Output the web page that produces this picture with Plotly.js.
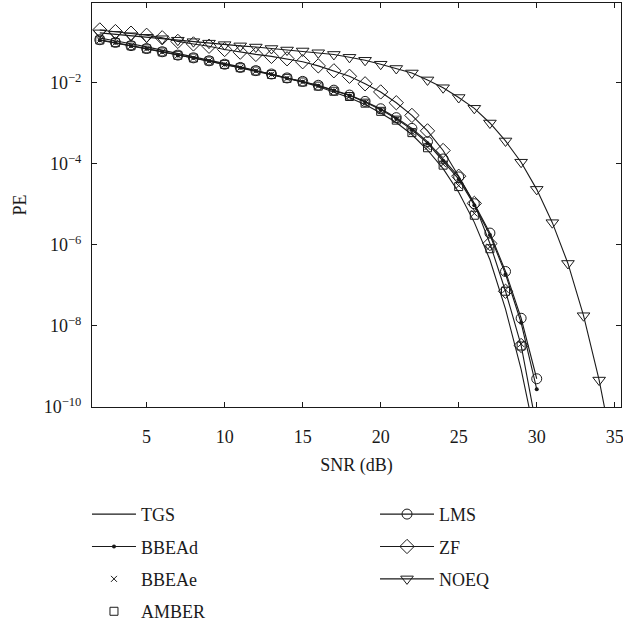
<!DOCTYPE html>
<html>
<head>
<meta charset="utf-8">
<script src="https://cdn.plot.ly/plotly-3.0.1.min.js"></script>
<style>html,body{margin:0;padding:0;background:#fff;}</style>
</head>
<body>
<div id="chart" style="width:623px;height:632px;"></div>
<script>
// SNR (dB) grid
var snr = [2,3,4,5,6,7,8,9,10,11,12,13,14,15,16,17,18,19,20,21,22,23,24,25,26,27,28,29,30];
var snrNoeq = [2,3,4,5,6,7,8,9,10,11,12,13,14,15,16,17,18,19,20,21,22,23,24,25,26,27,28,29,30,31,32,33,34,35];
var snrAmber = [2,3,4,5,6,7,8,9,10,11,12,13,14,15,16,17,18,19,20,21,22,23,24,25,26,27,28,29];

var tgs = [0.128,0.110,0.092,0.077,0.064,0.053,0.044,0.037,0.030,0.0247,0.0202,0.0163,0.0130,0.0104,8.1e-3,6.0e-3,4.3e-3,2.9e-3,1.8e-3,1.05e-3,5.3e-4,2.2e-4,7.6e-5,2.0e-5,3.6e-6,4.3e-7,2.6e-8,8.5e-10,1.2e-11];
var bbead = [0.112,0.097,0.081,0.069,0.0575,0.0475,0.0408,0.0345,0.0284,0.0237,0.0197,0.0162,0.0130,0.0107,8.5e-3,6.45e-3,4.85e-3,3.35e-3,2.18e-3,1.3e-3,7.0e-4,3.25e-4,1.2e-4,4.2e-5,9.5e-6,1.75e-6,1.9e-7,1.2e-8,2.75e-10];
var bbeae = [0.113,0.0975,0.0815,0.069,0.0577,0.0477,0.0409,0.0346,0.0285,0.0236,0.0196,0.0161,0.0129,0.0105,8.35e-3,6.25e-3,4.65e-3,3.2e-3,2.02e-3,1.22e-3,6.0e-4,2.6e-4,9.8e-5,2.9e-5,6.0e-6,9.0e-7,7.8e-8,3.6e-9];
var amber = [0.114,0.098,0.082,0.069,0.0578,0.0478,0.041,0.0346,0.0285,0.0236,0.0196,0.0161,0.0129,0.0105,8.3e-3,6.2e-3,4.6e-3,3.15e-3,1.98e-3,1.2e-3,5.9e-4,2.5e-4,9.3e-5,2.75e-5,5.4e-6,8.05e-7,7.2e-8,3.2e-9];
var lms = [0.1159,0.0998,0.0830,0.0702,0.0585,0.0483,0.0414,0.0350,0.0288,0.0240,0.0200,0.0165,0.0132,0.01086,8.71e-3,6.59e-3,4.99e-3,3.48e-3,2.29e-3,1.38e-3,7.5e-4,3.54e-4,1.32e-4,4.76e-5,1.04e-5,1.96e-6,2.21e-7,1.55e-8,4.98e-10];
var zf = [0.202,0.184,0.168,0.149,0.1295,0.1054,0.0912,0.0798,0.0664,0.0571,0.0503,0.0450,0.0392,0.0331,0.0262,0.0198,0.0145,9.46e-3,5.96e-3,3.23e-3,1.57e-3,6.53e-4,2.14e-4,4.95e-5,1.06e-5,1.08e-6,7.18e-8,3.30e-9,3e-11];
var noeq = [0.171,0.157,0.145,0.133,0.1225,0.1127,0.1037,0.0953,0.0877,0.0817,0.0764,0.0702,0.0646,0.0611,0.0552,0.0502,0.0426,0.0360,0.0288,0.0226,0.0175,0.0118,7.57e-3,4.34e-3,2.35e-3,1.02e-3,3.68e-4,1.10e-4,2.35e-5,3.54e-6,3.49e-7,1.79e-8,4.62e-10,5e-12];

var xTicks = [5,10,15,20,25,30,35];
var yTicks = [1e-10,1e-8,1e-6,1e-4,1e-2];
var yTickText = ['10<sup>\u221210</sup>','10<sup>\u22128</sup>','10<sup>\u22126</sup>','10<sup>\u22124</sup>','10<sup>\u22122</sup>'];

var K = '#1a1a1a';
var FONT = '"Liberation Serif", "DejaVu Serif", serif';

function tr(name, x, y, mode, marker, legend, group) {
  var t = {name: name, x: x, y: y, mode: mode, type: 'scatter', cliponaxis: true,
           line: {color: K, width: 1.1}, legend: legend, legendgroup: group};
  if (marker) t.marker = marker;
  return t;
}

var data = [
  tr('TGS', snr, tgs, 'lines', null, 'legend', 'a'),
  tr('BBEAd', snr, bbead, 'lines+markers', {symbol: 'circle', size: 4, color: K}, 'legend', 'b'),
  tr('BBEAe', snr, bbeae, 'markers', {symbol: 'x-thin-open', size: 6, color: K, line: {color: K, width: 1}}, 'legend', 'c'),
  tr('AMBER', snrAmber, amber, 'markers', {symbol: 'square-open', size: 8, color: K, line: {color: K, width: 1}}, 'legend', 'd'),
  tr('LMS', snr, lms, 'lines+markers', {symbol: 'circle-open', size: 10, color: K, line: {color: K, width: 1}}, 'legend2', 'e'),
  tr('ZF', snr, zf, 'lines+markers', {symbol: 'diamond-open', size: 11, color: K, line: {color: K, width: 1}}, 'legend2', 'f'),
  tr('NOEQ', snrNoeq, noeq, 'lines+markers', {symbol: 'triangle-down-open', size: 11, color: K, line: {color: K, width: 1}}, 'legend2', 'g')
];

var legendCommon = {
  orientation: 'v', traceorder: 'grouped', tracegroupgap: 6,
  font: {family: FONT, size: 18, color: K},
  bgcolor: 'rgba(0,0,0,0)', borderwidth: 0,
  xanchor: 'left', yanchor: 'top', itemsizing: 'trace'
};

var layout = {
  width: 623, height: 632,
  margin: {l: 92, r: 2, t: 3, b: 216},
  paper_bgcolor: '#fff', plot_bgcolor: '#fff',
  font: {family: FONT, size: 18, color: K},
  showlegend: true,
  xaxis: {
    range: [1.5, 35.4], tickvals: xTicks, ticks: 'inside', ticklen: 5, tickcolor: K,
    showline: true, linecolor: K, linewidth: 1, mirror: 'ticks', showgrid: false, zeroline: false,
    ticklabelstandoff: 13, ticklabeloverflow: 'allow', tickfont: {family: FONT, size: 18, color: K},
    title: {text: 'SNR (dB)', font: {family: FONT, size: 18, color: K}, standoff: 12}
  },
  yaxis: {
    type: 'log', range: [-10, -0.03], tickvals: yTicks, ticktext: yTickText,
    ticks: 'inside', ticklen: 5, tickcolor: K,
    showline: true, linecolor: K, linewidth: 1, mirror: 'ticks', showgrid: false, zeroline: false,
    ticklabelstandoff: 6, tickfont: {family: FONT, size: 18, color: K},
    title: {text: 'PE', font: {family: FONT, size: 18, color: K}, standoff: 12}
  },
  legend: Object.assign({}, legendCommon, {x: -0.0095, y: -0.22, itemwidth: 44}),
  legend2: Object.assign({}, legendCommon, {x: 0.535, y: -0.22, itemwidth: 54})
};

Plotly.newPlot('chart', data, layout, {displayModeBar: false, staticPlot: true});
</script>
</body>
</html>
